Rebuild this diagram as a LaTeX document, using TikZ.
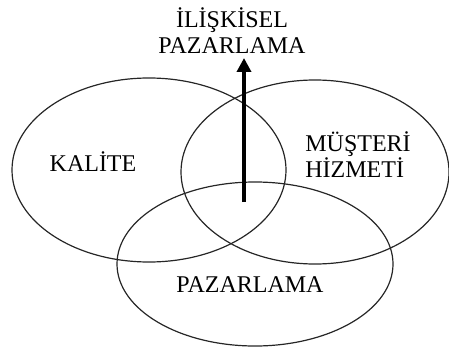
\documentclass[tikz,border=0pt]{standalone}
\usepackage{fontspec}
\setmainfont{Liberation Serif}
\usetikzlibrary{arrows.meta}
\tikzset{
  lbl/.style={font=\fontsize{12}{13}\selectfont, inner sep=0pt, align=center},
  ring/.style={draw=black!85, line width=0.6pt},
}
\begin{document}
\begin{tikzpicture}[x=0.5pt, y=-0.5pt]
\useasboundingbox (0,0) rectangle (449,353);
% the three circles
\draw[ring] (149,170) ellipse [x radius=137, y radius=92];
\draw[ring] (315,172) ellipse [x radius=134, y radius=92];
\draw[ring] (255,264) ellipse [x radius=138, y radius=82];

\node (kal)[lbl] at (93, 162) {KALİTE};
\node (mus)[lbl, align=left, anchor=west] at (305, 155) {MÜŞTERİ\\HİZMETİ};
\node (paz)[lbl] at (250, 285) {PAZARLAMA};
\node (ilis)[lbl] at (232, 31) {İLİŞKİSEL\\PAZARLAMA};

\coordinate (foot) at (244, 202);
\coordinate (tip) at (244, 58);
\draw[line width=2pt, -{Triangle[width=7pt, length=7pt]}] (foot) -- (tip);
\end{tikzpicture}
\end{document}
